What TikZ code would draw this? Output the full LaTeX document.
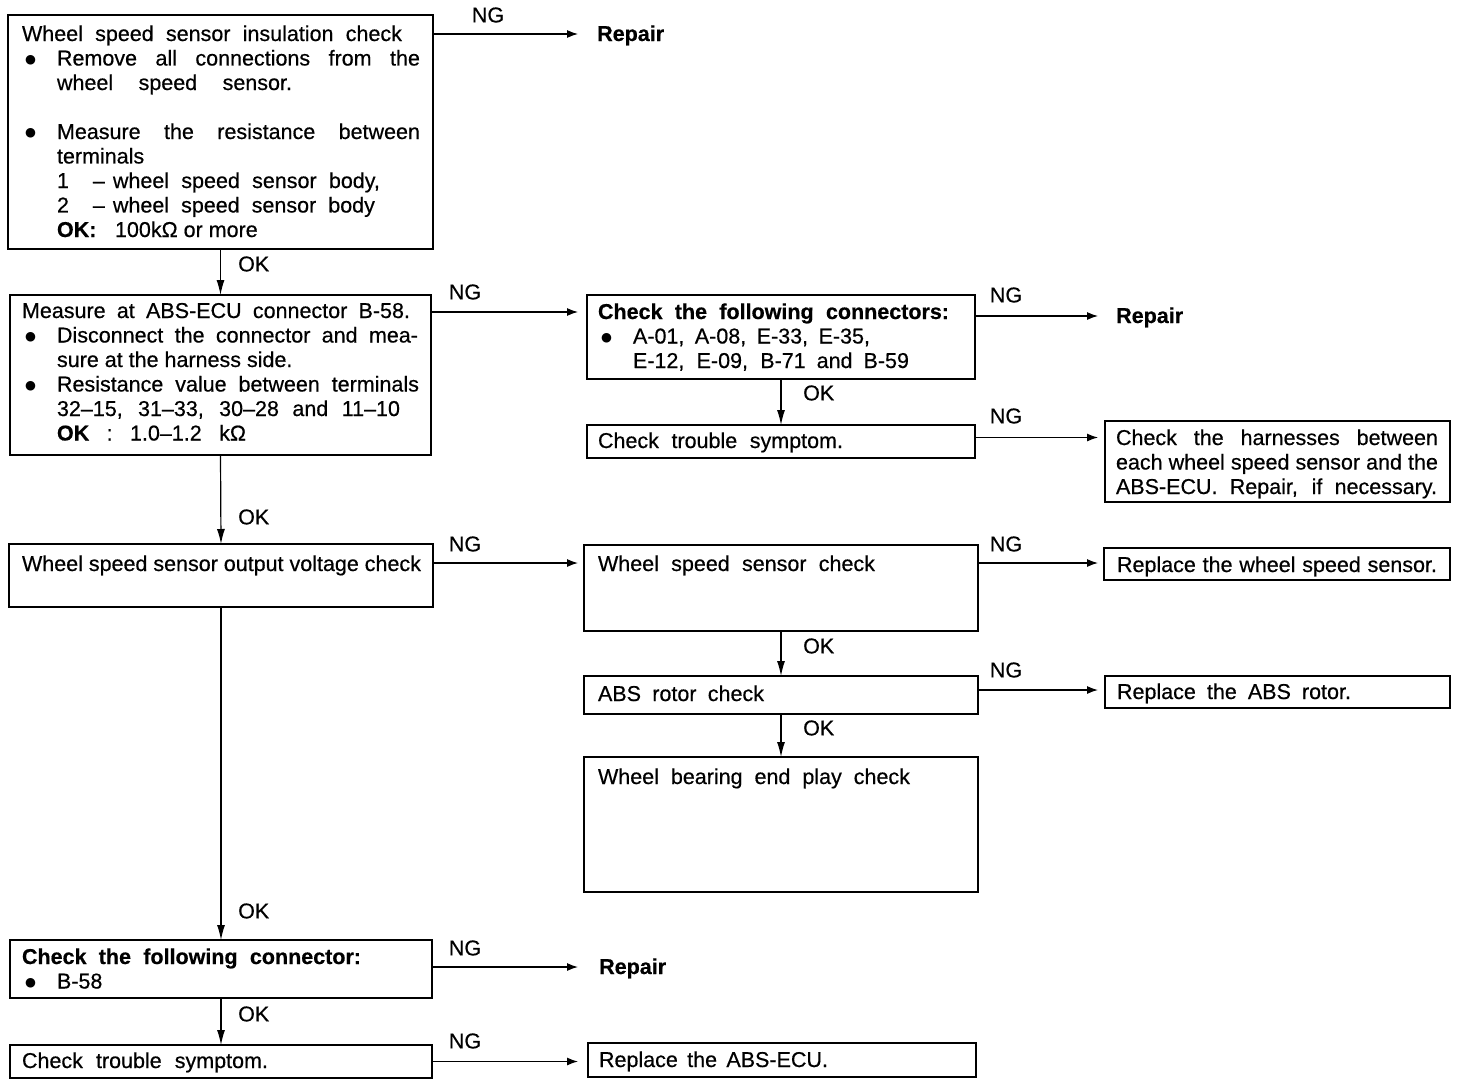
\documentclass[tikz,border=0pt]{standalone}
\usepackage{fontspec}
\setmainfont{Liberation Sans}[FakeBold=0.5]
\newfontfamily\dejavu{DejaVu Sans}
\usetikzlibrary{arrows.meta,calc}
\newcommand\spr[2]{\makebox[#1pt][s]{#2}}
\newcommand\bul{\makebox[35pt][l]{\hspace*{3pt}\raisebox{2.5pt}{\dejavu\fontsize{12.5}{12.5}\selectfont ●}}}
\newcommand\indt{\hspace*{35pt}}
\begin{document}
\begin{tikzpicture}[x=1pt,y=-1pt,
  font=\fontsize{21.5}{24.5}\selectfont,
  box/.style={draw, anchor=north west, inner ysep=0pt, outer sep=0pt},
  boxthin/.style={line width=1.1pt},
  boxmid/.style={line width=1.8pt},
  boxheavy/.style={line width=2.6pt},
  arr/.style={line width=1.2pt, -{Latex[length=11pt,width=8pt]}},
  okarr/.style={line width=1.2pt, -{Latex[length=15pt,width=8pt]}},
  lbl/.style={inner sep=0pt},
]
\useasboundingbox (0,0) rectangle (1472,1084);
\fill[white] (0,0) rectangle (1472,1084);

% ---------- boxes ----------
\node[box, boxheavy, inner xsep=14pt, text height=26pt, text depth=208pt] (b1) at (8,15) {\parbox[t]{397pt}{%
\spr{380}{Wheel speed sensor insulation check}\\
\bul\spr{363}{Remove all connections from the}\\
\indt\spr{235}{wheel speed sensor.}\\
\mbox{}\\
\bul\spr{363}{Measure the resistance between}\\
\indt terminals\\
\indt\makebox[36pt][l]{1}–\hspace{8pt}\spr{267}{wheel speed sensor body,}\\
\indt\makebox[36pt][l]{2}–\hspace{8pt}\spr{262}{wheel speed sensor body}\\
\indt\makebox[58pt][l]{\textbf{OK:}}100kΩ or more}};

\node[box, boxthin, inner xsep=12pt, text height=23pt, text depth=137pt] (b2) at (10,295) {\parbox[t]{397pt}{%
\spr{388}{Measure at ABS-ECU connector B-58.}\\
\bul\spr{361}{Disconnect the connector and mea-}\\
\indt sure at the harness side.\\
\bul\spr{362}{Resistance value between terminals}\\
\indt\spr{343}{32–15, 31–33, 30–28 and 11–10}\\
\indt\spr{189}{\textbf{OK} : 1.0–1.2 kΩ}}};

\node[box, boxthin, inner xsep=11pt, text height=24pt, text depth=60pt] (b3) at (587,295) {\parbox[t]{366pt}{%
\textbf{\spr{351}{Check the following connectors:}}\\
\bul\spr{237}{A-01, A-08, E-33, E-35,}\\
\indt\spr{276}{E-12, E-09, B-71 and B-59}}};

\node[box, boxthin, inner xsep=11pt, text height=23pt, text depth=10pt] (b4) at (587,425) {\parbox[t]{366pt}{%
\spr{245}{Check trouble symptom.}}};

\node[box, boxmid, inner xsep=11pt, text height=24pt, text depth=57pt] (b5) at (1105,421) {\parbox[t]{323pt}{%
\spr{322}{Check the harnesses between}\\
\spr{322}{each wheel speed sensor and the}\\
\spr{321}{ABS-ECU. Repair, if necessary.}}};

\node[box, boxheavy, inner xsep=13pt, text height=27pt, text depth=36pt] (b6) at (9,544) {\parbox[t]{398pt}{%
\spr{399}{Wheel speed sensor output voltage check}}};

\node[box, boxmid, inner xsep=14pt, text height=26pt, text depth=60pt] (b7) at (584,545) {\parbox[t]{366pt}{%
\spr{277}{Wheel speed sensor check}}};

\node[box, boxmid, inner xsep=13pt, text height=24pt, text depth=8pt] (b8) at (1104,548) {\parbox[t]{320pt}{%
\spr{320}{Replace the wheel speed sensor.}}};

\node[box, boxheavy, inner xsep=14pt, text height=25pt, text depth=13pt] (b9) at (584,676) {\parbox[t]{366pt}{%
\spr{166}{ABS rotor check}}};

\node[box, boxmid, inner xsep=12pt, text height=23pt, text depth=9pt] (b10) at (1105,676) {\parbox[t]{321pt}{%
\spr{234}{Replace the ABS rotor.}}};

\node[box, boxmid, inner xsep=14pt, text height=27pt, text depth=108pt] (b11) at (584,757) {\parbox[t]{366pt}{%
\spr{312}{Wheel bearing end play check}}};

\node[box, boxmid, inner xsep=12pt, text height=24pt, text depth=34pt] (b12) at (10,940) {\parbox[t]{398pt}{%
\textbf{\spr{339}{Check the following connector:}}\\
\bul B-58}};

\node[box, boxmid, inner xsep=12pt, text height=23pt, text depth=10pt] (b13) at (10,1045) {\parbox[t]{398pt}{%
\spr{246}{Check trouble symptom.}}};

\node[box, boxthin, inner xsep=11pt, text height=24pt, text depth=10pt] (b14) at (588,1043) {\parbox[t]{366pt}{%
\spr{229}{Replace the ABS-ECU.}}};

% ---------- repair labels ----------
\node[lbl, anchor=base west, font=\fontsize{21.5}{24.5}\selectfont\bfseries] (rep1) at (597,41) {Repair};
\node[lbl, anchor=base west, font=\fontsize{21.5}{24.5}\selectfont\bfseries] (rep2) at (1116,323) {Repair};
\node[lbl, anchor=base west, font=\fontsize{21.5}{24.5}\selectfont\bfseries] (rep3) at (599,974) {Repair};

% ---------- NG connectors ----------
\coordinate (c1) at ([yshift=-19pt]b1.north east);
\draw[arr, shorten >=19pt] (c1) -- (c1 -| rep1.west);
\coordinate (c2) at ([yshift=-17pt]b2.north east);
\draw[arr, shorten >=9pt] (c2) -- (c2 -| b3.west);
\coordinate (c3) at ([yshift=-21pt]b3.north east);
\draw[arr, shorten >=18pt] (c3) -- (c3 -| rep2.west);
\coordinate (c4) at ([yshift=4pt]b4.east);
\draw[arr, shorten >=7pt] (c4) -- (c4 -| b5.west);
\coordinate (c6) at ([yshift=-19pt]b6.north east);
\draw[arr, shorten >=6pt] (c6) -- (c6 -| b7.west);
\coordinate (c7) at ([yshift=-18pt]b7.north east);
\draw[arr, shorten >=6pt] (c7) -- (c7 -| b8.west);
\coordinate (c9) at ([yshift=-14pt]b9.north east);
\draw[arr, shorten >=7pt] (c9) -- (c9 -| b10.west);
\coordinate (c12) at ([yshift=-27pt]b12.north east);
\draw[arr, shorten >=21pt] (c12) -- (c12 -| rep3.west);
\draw[arr, shorten >=10pt] (b13.east) -- (b13.east -| b14.west);

% ---------- OK connectors ----------
\draw[okarr] (b1.south) -- (b2.north);
\draw[okarr] (b2.south) -- (b6.north);
\draw[okarr] (b3.south) -- (b4.north);
\draw[okarr] (b7.south) -- (b9.north);
\draw[okarr] (b9.south) -- (b11.north);
\draw[okarr] (b6.south) -- (b12.north);
\draw[okarr] (b12.south) -- (b13.north);

% ---------- NG labels ----------
\node[lbl] (ng1) at (488,15) {NG};
\node[lbl] (ng2) at (465,292) {NG};
\node[lbl] (ng3) at (1006,295) {NG};
\node[lbl] (ng4) at (1006,416) {NG};
\node[lbl] (ng5) at (465,544) {NG};
\node[lbl] (ng6) at (1006,544) {NG};
\node[lbl] (ng7) at (1006,670) {NG};
\node[lbl] (ng8) at (465,948) {NG};
\node[lbl] (ng9) at (465,1041) {NG};

% ---------- OK labels ----------
\node[lbl, anchor=west] (ok1) at (238,264) {OK};
\node[lbl, anchor=west] (ok2) at (803,393) {OK};
\node[lbl, anchor=west] (ok3) at (238,517) {OK};
\node[lbl, anchor=west] (ok4) at (803,646) {OK};
\node[lbl, anchor=west] (ok5) at (803,728) {OK};
\node[lbl, anchor=west] (ok6) at (238,911) {OK};
\node[lbl, anchor=west] (ok7) at (238,1014) {OK};
\end{tikzpicture}
\end{document}
